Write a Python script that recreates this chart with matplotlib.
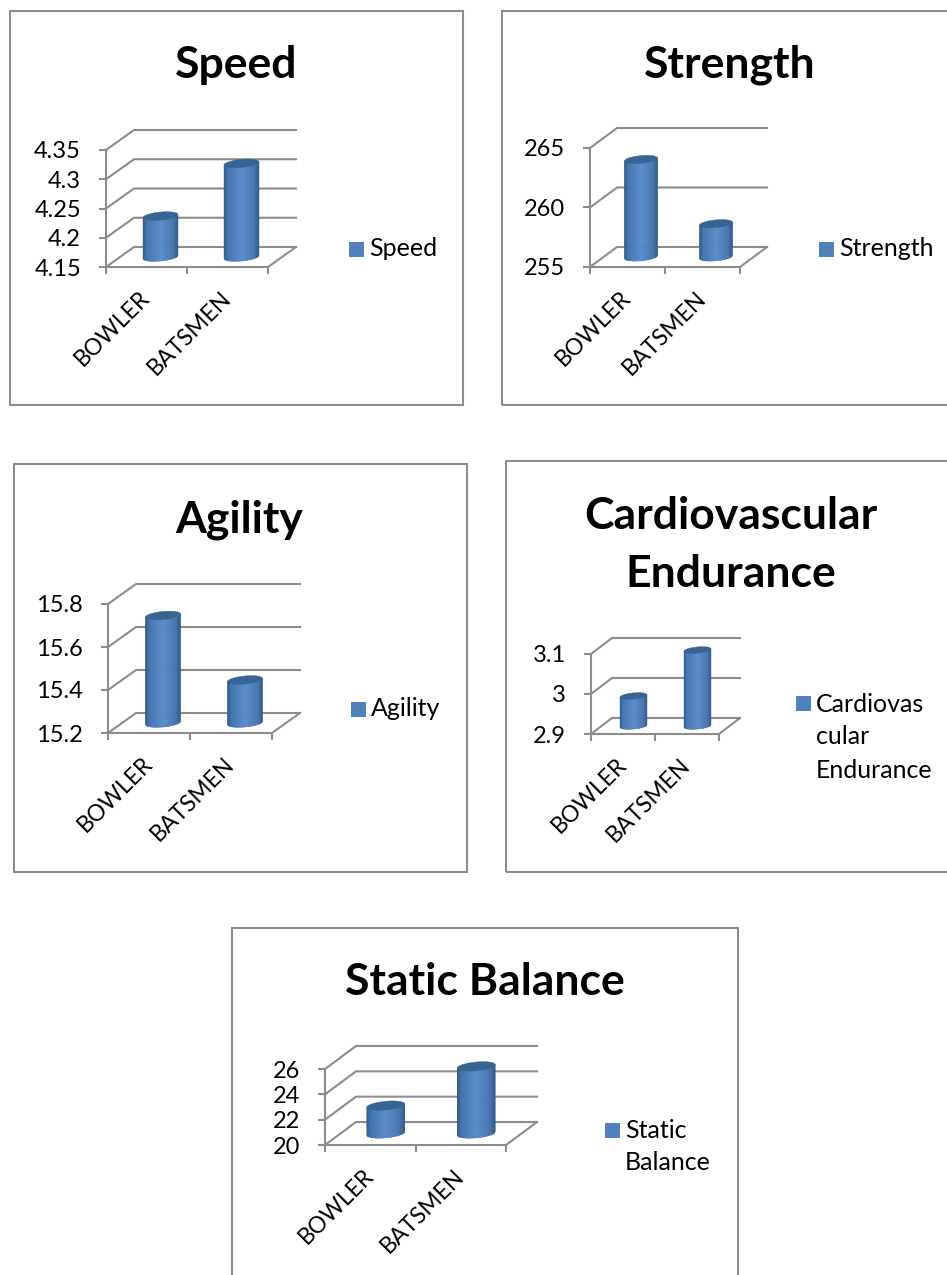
import numpy as np
from matplotlib import pyplot as plt
from matplotlib.collections import PolyCollection
from matplotlib.patches import Polygon, Rectangle
from matplotlib.transforms import IdentityTransform

W, H = 947, 1275
GREY = "#8C8C8C"
plt.rcParams["font.family"] = ["Lato", "DejaVu Sans"]

categories = ["BOWLER", "BATSMEN"]

speed_values = [4.22, 4.31]
speed_ticks = [4.15, 4.2, 4.25, 4.3, 4.35]
speed_labels = ["4.15", "4.2", "4.25", "4.3", "4.35"]

strength_values = [263.2, 257.8]
strength_ticks = [255, 260, 265]
strength_labels = ["255", "260", "265"]

agility_values = [15.7, 15.4]
agility_ticks = [15.2, 15.4, 15.6, 15.8]
agility_labels = ["15.2", "15.4", "15.6", "15.8"]

cardio_values = [2.975, 3.09]
cardio_ticks = [2.9, 3.0, 3.1]
cardio_labels = ["2.9", "3", "3.1"]

balance_values = [22.2, 25.3]
balance_ticks = [20, 22, 24, 26]
balance_labels = ["20", "22", "24", "26"]

# layout in reference pixels, y measured from the top
panels = [
    dict(title=["Speed"], title_x=236, title_y=[65], frame=(10, 11, 463, 405),
         box=(106, 268, 150, 267), depth=(28, 20), bar_w=35,
         values=speed_values, ticks=speed_ticks, labels=speed_labels,
         legend=["Speed"], leg_x=349, leg_y=249, leg_dy=33),
    dict(title=["Strength"], title_x=730, title_y=[65], frame=(502, 11, 960, 405),
         box=(590, 740, 148, 267), depth=(27, 20), bar_w=33,
         values=strength_values, ticks=strength_ticks, labels=strength_labels,
         legend=["Strength"], leg_x=819, leg_y=249, leg_dy=33),
    dict(title=["Agility"], title_x=239, title_y=[520], frame=(14, 464, 467, 872),
         box=(108, 272, 604, 733), depth=(28, 20), bar_w=35,
         values=agility_values, ticks=agility_ticks, labels=agility_labels,
         legend=["Agility"], leg_x=351, leg_y=709, leg_dy=33),
    dict(title=["Cardiovascular", "Endurance"], title_x=731, title_y=[516, 574],
         frame=(506, 461, 960, 872),
         box=(591, 719, 654, 734), depth=(21, 16), bar_w=27,
         values=cardio_values, ticks=cardio_ticks, labels=cardio_labels,
         legend=["Cardiovas", "cular", "Endurance"], leg_x=796, leg_y=704, leg_dy=33),
    dict(title=["Static Balance"], title_x=485, title_y=[982], frame=(232, 928, 738, 1290),
         box=(325, 506, 1069, 1145), depth=(31, 23), bar_w=38,
         values=balance_values, ticks=balance_ticks, labels=balance_labels,
         legend=["Static", "Balance"], leg_x=605, leg_y=1130, leg_dy=33),
]


def shade(t):
    # dark edges, lighter middle of the cylinder
    stops = [0.0, 0.12, 0.5, 0.85, 1.0]
    reds = [0x2F, 0x44, 0x58, 0x48, 0x2F]
    greens = [0x5A, 0x74, 0x8C, 0x76, 0x59]
    blues = [0x8C, 0xB0, 0xCA, 0xB0, 0x88]
    return (np.interp(t, stops, reds) / 255,
            np.interp(t, stops, greens) / 255,
            np.interp(t, stops, blues) / 255)


def draw_cylinder(ax, x, value, ymin, bar_w, dx, dy):
    top = ax.transData.transform((x, value)) + np.array([dx / 2, dy / 2])
    bottom = ax.transData.transform((x, ymin)) + np.array([dx / 2, dy / 2])
    a = bar_w / 2
    b = bar_w * 0.115
    slope = 0.09
    xs = np.arange(-a, a, 0.5)
    strips, colors = [], []
    for x0 in xs:
        x1 = x0 + 0.5
        low0 = bottom[1] + slope * x0 - b * np.sqrt(max(0, 1 - (x0 / a) ** 2))
        low1 = bottom[1] + slope * x1 - b * np.sqrt(max(0, 1 - (x1 / a) ** 2))
        up0 = top[1] + slope * x0
        up1 = top[1] + slope * x1
        cx = top[0]
        strips.append([(cx + x0, low0), (cx + x1, low1), (cx + x1, up1), (cx + x0, up0)])
        colors.append(shade((x0 + a) / (2 * a)))
    body = PolyCollection(strips, facecolors=colors, edgecolors=colors, linewidths=0.3,
                          transform=IdentityTransform(), zorder=4, clip_on=False)
    ax.add_collection(body, autolim=False)
    t = np.linspace(0, 2 * np.pi, 80)
    ex = a * np.cos(t)
    ey = b * np.sin(t) + slope * ex
    cap = Polygon(np.column_stack([top[0] + ex, top[1] + ey]), closed=True,
                  facecolor="#386494", edgecolor="#386494", linewidth=0.3,
                  transform=IdentityTransform(), zorder=5, clip_on=False)
    ax.add_patch(cap)


fig = plt.figure(figsize=(W / 100, H / 100), dpi=100, facecolor="white")

for p in panels:
    fx0, fy0, fx1, fy1 = p["frame"]
    fig.add_artist(Rectangle((fx0 / W, 1 - fy1 / H), (fx1 - fx0) / W, (fy1 - fy0) / H,
                             transform=fig.transFigure, fill=False,
                             edgecolor=GREY, linewidth=1.5))

    left, right, top, base = p["box"]
    dx, dy = p["depth"]
    ax = fig.add_axes([left / W, 1 - base / H, (right - left) / W, (base - top) / H])
    ax.patch.set_alpha(0)
    ticks = p["ticks"]
    ax.set_xlim(0, 2)
    ax.set_ylim(ticks[0], ticks[-1])
    for side in ["top", "right"]:
        ax.spines[side].set_visible(False)
    for side in ["left", "bottom"]:
        ax.spines[side].set_color(GREY)
        ax.spines[side].set_linewidth(1.5)

    ax.set_yticks(ticks, p["labels"])
    ax.set_xticks([0, 1, 2], ["", "", ""])
    ax.set_xticks([0.5, 1.5], categories, minor=True)
    ax.tick_params(axis="both", which="major", color=GREY, width=1.5, length=5)
    ax.tick_params(axis="y", labelsize=17, pad=13, labelcolor="black")
    ax.tick_params(axis="x", which="minor", length=0, labelsize=16.5, pad=20)
    for lab in ax.get_xticklabels(minor=True):
        lab.set_rotation(45)
        lab.set_ha("right")
        lab.set_va("center")
        lab.set_rotation_mode("anchor")

    # side wall, back wall lines and floor
    for v in ticks:
        a = ax.transData.transform((0, v))
        b = ax.transData.transform((2, v))
        ax.plot([a[0], a[0] + dx, b[0] + dx], [a[1], a[1] + dy, a[1] + dy],
                transform=IdentityTransform(), color=GREY, lw=1.5, clip_on=False, zorder=1)
    a = ax.transData.transform((2, ticks[0]))
    ax.plot([a[0], a[0] + dx], [a[1], a[1] + dy], transform=IdentityTransform(),
            color=GREY, lw=1.5, clip_on=False, zorder=1)

    for i, value in enumerate(p["values"]):
        draw_cylinder(ax, i + 0.5, value, ticks[0], p["bar_w"], dx, dy)

    for line, y in zip(p["title"], p["title_y"]):
        fig.text(p["title_x"] / W, 1 - y / H, line, ha="center", va="center",
                 fontsize=32, fontweight="bold", color="black")

    fig.add_artist(Rectangle((p["leg_x"] / W, 1 - (p["leg_y"] + 7.5) / H), 15 / W, 15 / H,
                             transform=fig.transFigure, facecolor="#4F81BD", edgecolor="none"))
    for j, line in enumerate(p["legend"]):
        fig.text((p["leg_x"] + 20) / W, 1 - (p["leg_y"] + j * p["leg_dy"]) / H, line,
                 ha="left", va="center", fontsize=18, color="black")

fig.savefig("out.png", dpi=100, facecolor="white")
